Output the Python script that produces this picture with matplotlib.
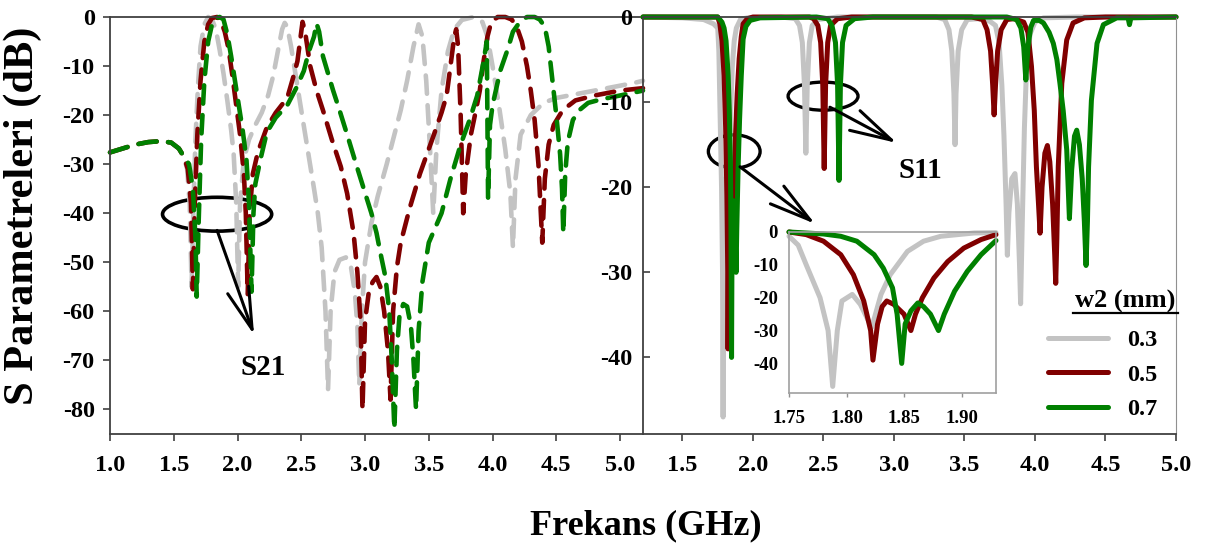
import matplotlib
matplotlib.use('Agg')
import matplotlib.pyplot as plt
from matplotlib.patches import Ellipse
from matplotlib.lines import Line2D

plt.rcParams['font.family'] = 'Liberation Serif'
plt.rcParams['font.weight'] = 'bold'
plt.rcParams['axes.unicode_minus'] = False

# w2 values and their colours
widths = ['0.3', '0.5', '0.7']
colors = ['#c3c3c3', '#800000', '#008000']

# S21 (dB) vs frequency (GHz), one list of (f, dB) per w2
s21_03 = [(1.00, -27.6), (1.10, -26.8), (1.20, -26.0), (1.30, -25.5), (1.40, -25.3), (1.48, -25.6),
          (1.54, -26.8), (1.58, -28.5), (1.605, -31), (1.625, -38), (1.64, -55), (1.655, -38),
          (1.67, -25), (1.69, -14), (1.71, -6), (1.74, -1.5), (1.77, 0), (1.80, -0.5), (1.83, -2.5),
          (1.86, -6.7), (1.89, -11.5), (1.92, -17), (1.95, -23), (1.97, -28), (1.99, -38),
          (2.005, -55), (2.02, -38), (2.05, -29), (2.09, -25), (2.14, -22), (2.19, -19.5),
          (2.24, -16), (2.28, -12), (2.32, -6.5), (2.35, -2.5), (2.37, -1.2), (2.39, -2), (2.42, -6),
          (2.46, -12.5), (2.50, -19), (2.55, -27), (2.60, -35), (2.63, -40), (2.66, -47), (2.69, -60),
          (2.71, -76), (2.73, -60), (2.76, -52), (2.80, -49.5), (2.85, -49), (2.89, -51), (2.92, -56),
          (2.94, -63), (2.955, -75), (2.975, -60), (3.00, -50), (3.05, -42), (3.10, -36.5),
          (3.17, -30), (3.23, -24), (3.28, -19), (3.33, -13), (3.38, -6), (3.42, -1.5), (3.45, -4),
          (3.48, -13), (3.51, -27), (3.535, -40), (3.56, -27), (3.60, -15), (3.65, -7), (3.70, -2.5),
          (3.76, -0.6), (3.85, 0), (3.92, -1), (3.96, -4), (4.00, -10), (4.05, -18), (4.10, -27),
          (4.14, -36), (4.16, -47), (4.18, -33), (4.22, -24), (4.30, -20), (4.40, -17.5),
          (4.50, -16.5), (4.70, -15.5), (4.90, -14.5), (5.10, -13.5), (5.18, -13)]
s21_05 = [(1.00, -27.6), (1.10, -26.8), (1.20, -26.0), (1.30, -25.5), (1.40, -25.3), (1.48, -25.6),
          (1.54, -26.8), (1.58, -28.5), (1.61, -31), (1.635, -38), (1.65, -55.5), (1.665, -38),
          (1.685, -24), (1.71, -13), (1.74, -5), (1.77, -1.5), (1.80, -0.2), (1.84, 0), (1.87, -0.8),
          (1.90, -3), (1.93, -6.5), (1.96, -12), (1.99, -18), (2.02, -24), (2.05, -32), (2.065, -40),
          (2.08, -56.5), (2.095, -40), (2.12, -32), (2.16, -27.5), (2.23, -22.5), (2.30, -19.5),
          (2.39, -16.5), (2.44, -12), (2.47, -9), (2.50, -3), (2.51, -1), (2.53, -3), (2.57, -10),
          (2.62, -15), (2.67, -19), (2.74, -25), (2.81, -30.5), (2.86, -36), (2.91, -44), (2.94, -52),
          (2.965, -62), (2.98, -80), (3.00, -62), (3.03, -56), (3.06, -54), (3.09, -53), (3.12, -55),
          (3.15, -60), (3.18, -68), (3.20, -78), (3.22, -60), (3.25, -51), (3.28, -46), (3.35, -39),
          (3.43, -32), (3.54, -24), (3.60, -19.5), (3.64, -16), (3.67, -10), (3.70, -4),
          (3.715, -2.5), (3.73, -6), (3.75, -20), (3.77, -40), (3.79, -32), (3.83, -24), (3.87, -19),
          (3.90, -15), (3.93, -9), (3.96, -4), (3.99, -1), (4.04, 0), (4.10, 0), (4.15, -0.5),
          (4.19, -2), (4.23, -5), (4.27, -10), (4.30, -15), (4.33, -21), (4.36, -30), (4.39, -46),
          (4.41, -33), (4.44, -26), (4.48, -22), (4.55, -19), (4.65, -17), (4.80, -16), (5.00, -15),
          (5.18, -14.5)]
s21_07 = [(1.00, -27.6), (1.10, -26.8), (1.20, -26.0), (1.30, -25.5), (1.40, -25.3), (1.48, -25.6),
          (1.54, -26.8), (1.58, -28.5), (1.62, -30), (1.65, -35), (1.67, -45), (1.68, -57),
          (1.695, -42), (1.715, -25), (1.74, -13), (1.77, -5), (1.80, -1.5), (1.83, -0.2), (1.86, 0),
          (1.89, -0.5), (1.92, -3.5), (1.95, -8), (1.98, -13), (2.01, -18), (2.04, -23), (2.07, -29),
          (2.09, -38), (2.11, -56), (2.125, -40), (2.14, -34), (2.18, -29), (2.23, -23.5),
          (2.30, -20.5), (2.39, -18), (2.46, -14.5), (2.52, -11), (2.56, -7), (2.60, -4), (2.62, -1.3),
          (2.64, -3), (2.67, -8), (2.71, -11.5), (2.75, -15), (2.80, -19), (2.86, -24), (2.93, -30),
          (2.99, -35), (3.05, -40), (3.09, -44), (3.12, -48), (3.16, -53), (3.19, -60), (3.21, -70),
          (3.23, -84), (3.25, -68), (3.27, -61), (3.30, -58.5), (3.33, -59), (3.36, -63), (3.38, -70),
          (3.40, -80), (3.42, -64), (3.45, -54), (3.50, -46), (3.60, -40), (3.67, -33), (3.75, -26),
          (3.82, -21), (3.88, -16), (3.93, -9), (3.955, -5), (3.965, -37), (3.98, -22), (4.00, -18),
          (4.06, -11), (4.12, -6.5), (4.16, -3), (4.22, -0.8), (4.27, 0), (4.33, 0), (4.37, -0.5),
          (4.41, -2), (4.44, -6), (4.47, -13), (4.50, -20), (4.53, -28), (4.545, -35), (4.555, -44),
          (4.57, -32), (4.59, -25.5), (4.63, -21), (4.68, -19), (4.75, -17.5), (4.85, -16.8),
          (5.00, -16), (5.18, -15)]

# S11 (dB) vs frequency (GHz)
s11_03 = [(1.22, 0), (1.50, -0.1), (1.65, -0.3), (1.72, -0.8), (1.75, -1.3), (1.758, -4),
          (1.765, -10), (1.777, -20), (1.784, -30), (1.788, -47), (1.792, -30), (1.796, -21),
          (1.805, -19), (1.812, -22), (1.819, -27), (1.822, -29), (1.83, -19), (1.838, -13),
          (1.853, -5.9), (1.867, -2.8), (1.882, -1.3), (1.911, -0.3), (1.93, -0.2), (1.96, -0.1),
          (2.20, 0), (2.30, -0.2), (2.33, -1), (2.35, -3), (2.365, -8), (2.375, -16), (2.385, -8),
          (2.40, -3), (2.42, -1), (2.46, -0.3), (2.60, 0), (3.30, 0), (3.36, -0.3), (3.39, -1.5),
          (3.41, -4), (3.425, -9), (3.433, -15), (3.44, -9), (3.455, -4), (3.48, -1.5), (3.52, -0.3),
          (3.60, -0.2), (3.68, -0.5), (3.72, -1), (3.745, -3), (3.765, -8), (3.78, -14), (3.795, -22),
          (3.804, -28), (3.815, -23), (3.835, -19), (3.858, -18.4), (3.875, -22), (3.89, -29),
          (3.898, -33.7), (3.91, -24), (3.925, -13), (3.94, -6), (3.965, -2), (4.00, -0.6),
          (4.06, -0.1), (4.30, 0), (5.00, 0)]
s11_05 = [(1.22, 0), (1.75, 0), (1.765, -0.8), (1.78, -2.8), (1.795, -6.9), (1.806, -13),
          (1.815, -21), (1.821, -30), (1.823, -39), (1.827, -28), (1.831, -22.7), (1.835, -21),
          (1.841, -22), (1.85, -25), (1.856, -30), (1.86, -25), (1.866, -20), (1.876, -14),
          (1.888, -9), (1.902, -4.9), (1.917, -2.3), (1.93, -0.8), (1.96, -0.2), (2.00, 0),
          (2.40, 0), (2.43, -0.2), (2.46, -1), (2.48, -3), (2.495, -8), (2.505, -17.8), (2.515, -8),
          (2.53, -3), (2.55, -1), (2.60, -0.2), (2.70, 0), (3.55, 0), (3.63, -0.3), (3.66, -1.5),
          (3.685, -4), (3.70, -8), (3.71, -11.5), (3.72, -8), (3.735, -4), (3.76, -1.5), (3.80, -0.3),
          (3.85, -0.2), (3.92, -0.6), (3.95, -1.8), (3.975, -5.8), (3.995, -11), (4.01, -17.6),
          (4.025, -22), (4.036, -25.4), (4.05, -20), (4.07, -16), (4.088, -15.1), (4.105, -17),
          (4.125, -22), (4.14, -28), (4.147, -31.3), (4.155, -26), (4.165, -17.6), (4.19, -7.8),
          (4.225, -2.7), (4.27, -0.7), (4.35, -0.1), (4.50, 0), (5.00, 0)]
s11_07 = [(1.22, 0), (1.75, 0), (1.78, -0.6), (1.795, -1.3), (1.809, -2.8), (1.824, -6.9),
          (1.832, -11), (1.84, -17), (1.844, -25), (1.848, -40), (1.851, -28), (1.856, -24),
          (1.862, -21.6), (1.867, -22.7), (1.873, -25), (1.88, -30), (1.885, -25), (1.894, -18),
          (1.905, -12), (1.917, -6.9), (1.93, -2.6), (1.95, -1.1), (1.98, -0.4), (2.05, -0.1),
          (2.45, 0), (2.53, -0.2), (2.56, -1), (2.585, -3), (2.60, -8), (2.61, -19.2), (2.62, -8),
          (2.635, -3), (2.66, -1), (2.72, -0.2), (2.85, 0), (3.80, 0), (3.87, -0.3), (3.90, -1.3),
          (3.92, -3.5), (3.935, -7.4), (3.95, -3.5), (3.97, -1.2), (3.99, -0.4), (4.03, -0.4),
          (4.06, -0.7), (4.10, -1.8), (4.13, -3.1), (4.155, -5), (4.177, -7.8), (4.20, -11),
          (4.225, -15.6), (4.244, -23.7), (4.26, -18), (4.28, -14), (4.296, -13.3), (4.315, -15),
          (4.335, -19), (4.35, -24), (4.362, -29.2), (4.372, -24), (4.38, -17.6), (4.40, -9.8),
          (4.44, -3.1), (4.485, -0.9), (4.58, -0.1), (4.66, -0.1), (4.67, -0.9), (4.68, -0.1),
          (5.00, 0)]

s21_all = [s21_03, s21_05, s21_07]
s11_all = [s11_03, s11_05, s11_07]

left_xticks = [1.0, 1.5, 2.0, 2.5, 3.0, 3.5, 4.0, 4.5, 5.0]
left_yticks = [0, -10, -20, -30, -40, -50, -60, -70, -80]
right_xticks = [1.5, 2.0, 2.5, 3.0, 3.5, 4.0, 4.5, 5.0]
right_yticks = [0, -10, -20, -30, -40]
inset_xticks = [1.75, 1.80, 1.85, 1.90]
inset_yticks = [0, -10, -20, -30, -40]

W, H = 1213, 548
fig = plt.figure(figsize=(W / 100, H / 100), dpi=100)
axL = fig.add_axes([110 / W, 1 - 434 / H, 533 / W, 417 / H])
axR = fig.add_axes([643 / W, 1 - 434 / H, 533 / W, 417 / H])
axI = fig.add_axes([789 / W, 1 - 393 / H, 207 / W, 161 / H])

spine_col = '#404040'
arrow_kw = dict(arrowstyle='->,head_length=3.0,head_width=0.8', lw=2.2,
                color='black', shrinkA=0, shrinkB=0, mutation_scale=10)

# ---- left panel: S21 dashed
for data, c in zip(s21_all, colors):
    f, db = zip(*data)
    axL.plot(f, db, color=c, lw=3.3, dashes=(4, 2.5), dash_capstyle='round', clip_on=False)
axL.set_xlim(1.0, 5.18)
axL.set_ylim(-85, 0)
axL.set_xticks(left_xticks)
axL.set_xticklabels([f'{v:.1f}' for v in left_xticks])
axL.set_yticks(left_yticks)
axL.tick_params(axis='x', direction='out', length=5, width=1.2, pad=10, labelsize=17.5, color=spine_col)
axL.tick_params(axis='y', direction='out', length=5, width=1.2, pad=6, labelsize=17.5, color=spine_col)
axL.spines['right'].set_visible(False)
for s in ['left', 'bottom', 'top']:
    axL.spines[s].set_color(spine_col)
    axL.spines[s].set_linewidth(1.3)

axL.add_patch(Ellipse((1.84, -40.2), 0.856, 6.9, fill=False, ec='black', lw=2.6, clip_on=False))
axL.annotate('', xy=(2.13, -64.8), xytext=(1.84, -43.5), arrowprops=arrow_kw)
axL.text(2.20, -71.5, 'S21', fontsize=21, ha='center', va='center')

# ---- right panel: S11 solid
for data, c in zip(s11_all, colors):
    f, db = zip(*data)
    axR.plot(f, db, color=c, lw=3.6, solid_capstyle='round', clip_on=False)
axR.set_xlim(1.22, 5.0)
axR.set_ylim(-49, 0)
axR.set_xticks(right_xticks)
axR.set_xticklabels([f'{v:.1f}' for v in right_xticks])
axR.set_yticks(right_yticks)
axR.tick_params(axis='x', direction='out', length=5, width=1.2, pad=10, labelsize=17.5, color=spine_col)
axR.tick_params(axis='y', direction='in', length=5, width=1.2, pad=8, labelsize=17.5, color=spine_col)
axR.patch.set_alpha(0)
for s in ['left', 'bottom', 'top']:
    axR.spines[s].set_color(spine_col)
    axR.spines[s].set_linewidth(1.3)
axR.spines['right'].set_color('#909090')

axR.add_patch(Ellipse((2.497, -9.3), 0.496, 3.3, fill=False, ec='black', lw=2.4, clip_on=False))
axR.annotate('', xy=(3.02, -14.8), xytext=(2.546, -10.6), arrowprops=arrow_kw)
axR.text(3.19, -18.0, 'S11', fontsize=21, ha='center', va='center')

axR.add_patch(Ellipse((1.867, -15.8), 0.367, 3.9, fill=False, ec='black', lw=2.4, clip_on=False))
axR.annotate('', xy=(2.44, -24.3), xytext=(1.908, -17.6), arrowprops=arrow_kw)

handles = [Line2D([], [], color=c, lw=3.6, solid_capstyle='round') for c in colors]
axR.legend(handles, widths, loc='upper left', bbox_to_anchor=(1048 / W, 1 - 329 / H),
           bbox_transform=fig.transFigure, frameon=False, fontsize=17.5, handlelength=2.45,
           handletextpad=0.8, labelspacing=0.52, borderpad=0, borderaxespad=0)
fig.text(1125 / W, 1 - 301 / H, 'w2 (mm)', fontsize=19, ha='center', va='center')
fig.add_artist(Line2D([1073 / W, 1178 / W], [1 - 313 / H, 1 - 313 / H], color='black', lw=1.6))

# ---- inset: zoom on the first S11 resonance
for data, c in zip(s11_all, colors):
    part = [p for p in data if 1.75 <= p[0] <= 1.93]
    f, db = zip(*part)
    axI.plot(f, db, color=c, lw=3.6, solid_capstyle='round', clip_on=False)
axI.set_xlim(1.75, 1.93)
axI.set_ylim(-49, 0)
axI.set_xticks(inset_xticks)
axI.set_xticklabels([f'{v:.2f}' for v in inset_xticks])
axI.set_yticks(inset_yticks)
axI.tick_params(axis='x', direction='out', length=3, width=1, pad=9, labelsize=13.5, color='#909090')
axI.tick_params(axis='y', length=0, pad=8, labelsize=13.5)
for s in axI.spines.values():
    s.set_color('#a0a0a0')
    s.set_linewidth(1.2)

fig.text(23 / W, 1 - 216 / H, 'S Parametreleri (dB)', fontsize=30.5, rotation=90, ha='center', va='center')
fig.text(646 / W, 1 - 526 / H, 'Frekans (GHz)', fontsize=26, ha='center', va='center')

fig.savefig('out.png', dpi=100)
